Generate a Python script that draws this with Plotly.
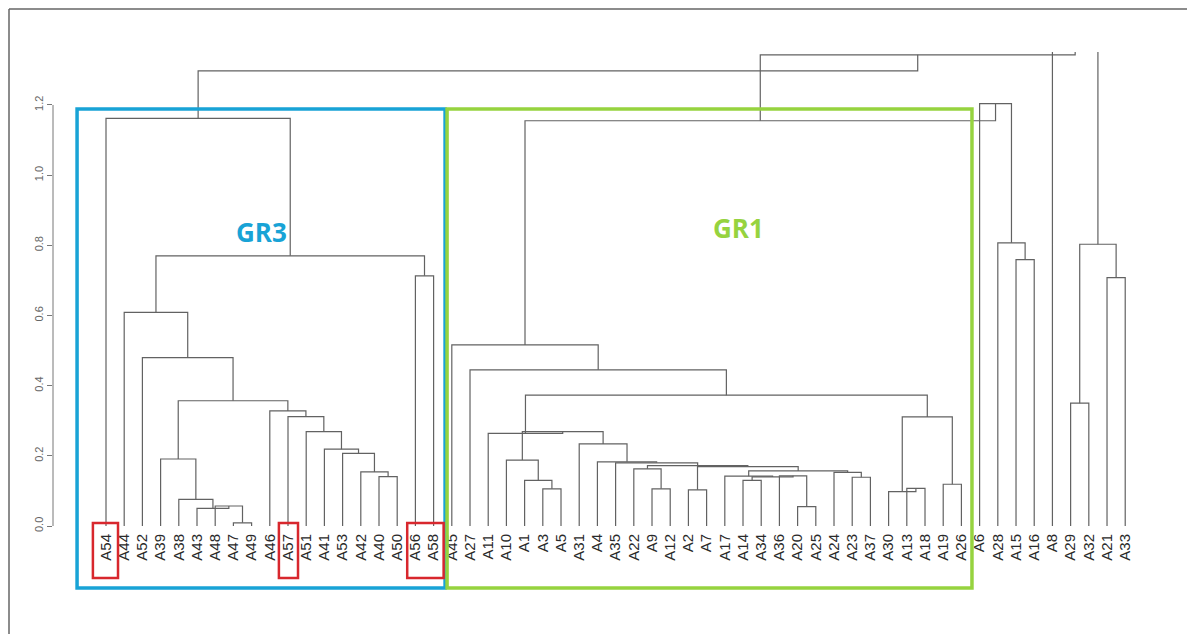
import plotly.graph_objects as go

# leaf order as drawn, left to right
leaves = ['A54', 'A44', 'A52', 'A39', 'A38', 'A43', 'A48', 'A47', 'A49', 'A46',
          'A57', 'A51', 'A41', 'A53', 'A42', 'A40', 'A50', 'A56', 'A58',
          'A45', 'A27', 'A11', 'A10', 'A1', 'A3', 'A5', 'A31', 'A4', 'A35',
          'A22', 'A9', 'A12', 'A2', 'A7', 'A17', 'A14', 'A34', 'A36', 'A20',
          'A25', 'A24', 'A23', 'A37', 'A30', 'A13', 'A18', 'A19', 'A26',
          'A6', 'A28', 'A15', 'A16', 'A8', 'A29', 'A32', 'A21', 'A33']

# merges: node id, left child, right child, height
merge_id = ['c1', 'c2', 'c3', 'c4', 'c5', 'c6', 'c7', 'c8', 'c9', 'c10',
            'c11', 'c12', 'c13', 'c14', 'c15', 'c16', 'c17', 'c18',
            'd1', 'd2', 'd3', 'd4', 'd5', 'd6', 'd7', 'd8', 'd9', 'd10',
            'd11', 'd12', 'd13', 'd14', 'd15', 'd16', 'd17', 'd18', 'd19',
            'd20', 'd21', 'd22', 'd23', 'd24', 'd25', 'd26', 'd27', 'd28',
            'e1', 'e2', 'e3', 'e4', 'e5', 'e6', 'e7', 'e8', 'e9', 'e10']
merge_left = ['A47', 'A48', 'A43', 'A38', 'A39', 'A40', 'A42', 'A53', 'A41', 'A51',
              'A57', 'A46', 'c5', 'A52', 'A44', 'A56', 'c15', 'A54',
              'A3', 'A1', 'A10', 'A9', 'A22', 'A2', 'A14', 'A20', 'A36', 'd7',
              'A17', 'A23', 'A24', 'd11', 'd6', 'd5', 'A35', 'A4', 'A31',
              'd3', 'A11', 'A13', 'A30', 'A19', 'd23', 'd21', 'A27', 'A45',
              'A15', 'A28', 'A6', 'd28', 'A29', 'A21', 'e5', 'A8', 'e4', 'c18']
merge_right = ['A49', 'c1', 'c2', 'c3', 'c4', 'A50', 'c6', 'c7', 'c8', 'c9',
               'c10', 'c11', 'c12', 'c13', 'c14', 'A58', 'c16', 'c17',
               'A5', 'd1', 'd2', 'A12', 'd4', 'A7', 'A34', 'A25', 'd8', 'd9',
               'd10', 'A37', 'd12', 'd13', 'd14', 'd15', 'd16', 'd17', 'd18',
               'd19', 'd20', 'A18', 'd22', 'A26', 'd24', 'd25', 'd26', 'd27',
               'A16', 'e1', 'e2', 'e3', 'A32', 'A33', 'e6', 'e7', 'e8', 'e9']
merge_height = [0.009, 0.057, 0.050, 0.076, 0.191, 0.141, 0.154, 0.207, 0.219, 0.269,
                0.312, 0.328, 0.357, 0.480, 0.609, 0.713, 0.770, 1.162,
                0.106, 0.130, 0.188, 0.106, 0.163, 0.103, 0.130, 0.055, 0.143, 0.140,
                0.142, 0.139, 0.153, 0.157, 0.169, 0.172, 0.180, 0.183, 0.234,
                0.269, 0.264, 0.107, 0.098, 0.119, 0.311, 0.373, 0.445, 0.516,
                0.759, 0.807, 1.204, 1.155, 0.350, 0.708, 0.803, 1.360, 1.343, 1.297]

y_ticks = [0.0, 0.2, 0.4, 0.6, 0.8, 1.0, 1.2]
y_range = [-0.0114, 1.351]
x_range = [-2.912, 59.01]

# group boxes (leaf index span) and highlighted leaves
groups = ['GR3', 'GR1']
group_span = [(-1.59, 18.63), (18.74, 47.58)]
group_color = ['#18a3d6', '#96d33f']
group_label_pos = [(8.55, 0.838), (34.75, 0.85)]
highlight_span = [(-0.72, 0.66), (9.5, 10.55), (16.55, 18.55)]

# the page body has an 8px margin, so the figure is a bit smaller than the window
OFF = 8
W, H = 1195 - OFF, 634 - OFF
M = dict(l=53 - OFF, r=15, t=52 - OFF, b=104)


def paper_y(px):
    return (H - M['b'] - (px - OFF)) / (H - M['t'] - M['b'])


def paper_x(px):
    return (px - OFF - M['l']) / (W - M['l'] - M['r'])


pos = {name: (i, 0.0) for i, name in enumerate(leaves)}
xs, ys = [], []
for nid, a, b, h in zip(merge_id, merge_left, merge_right, merge_height):
    xa, ha = pos[a]
    xb, hb = pos[b]
    xs += [xa, xa, xb, xb, None]
    ys += [ha, h, h, hb, None]
    pos[nid] = ((xa + xb) / 2, h)

fig = go.Figure()
fig.add_trace(go.Scatter(x=xs, y=ys, mode='lines', hoverinfo='skip',
                         line=dict(color='#626262', width=1.2)))

shapes = []
# y axis line from 0 to 1.2 only (R style)
shapes.append(dict(type='line', xref='paper', yref='y', x0=0, x1=0,
                   y0=y_ticks[0], y1=y_ticks[-1], line=dict(color='#777', width=1)))
# outer frame (left and top)
shapes.append(dict(type='line', xref='paper', yref='paper', x0=paper_x(9), x1=paper_x(9),
                   y0=paper_y(9), y1=paper_y(634), line=dict(color='#666', width=1.5)))
shapes.append(dict(type='line', xref='paper', yref='paper', x0=paper_x(9), x1=paper_x(1195),
                   y0=paper_y(9), y1=paper_y(9), line=dict(color='#666', width=1.5)))

for (x0, x1), col in zip(group_span, group_color):
    shapes.append(dict(type='rect', xref='x', yref='paper', x0=x0, x1=x1,
                       y0=paper_y(588), y1=paper_y(109), line=dict(color=col, width=3.5)))
for x0, x1 in highlight_span:
    shapes.append(dict(type='rect', xref='x', yref='paper', x0=x0, x1=x1,
                       y0=paper_y(578), y1=paper_y(523), line=dict(color='#d8272d', width=2.5)))

annotations = []
for g, (gx, gy), col in zip(groups, group_label_pos, group_color):
    annotations.append(dict(x=gx, y=gy, xref='x', yref='y', text='<b>' + g + '</b>',
                            showarrow=False, font=dict(family='Open Sans', size=26, color=col)))

fig.update_layout(
    width=W, height=H, margin=M,
    paper_bgcolor='white', plot_bgcolor='white',
    showlegend=False, shapes=shapes, annotations=annotations,
    xaxis=dict(range=x_range, tickmode='array', tickvals=list(range(len(leaves))),
               ticktext=leaves, tickangle=-90, ticks='', showgrid=False, zeroline=False,
               showline=False, tickfont=dict(family='Liberation Sans', size=15, color='#2a2a2a')),
    yaxis=dict(range=y_range, tickmode='array', tickvals=y_ticks,
               ticktext=['%.1f' % v for v in y_ticks], tickangle=-90, ticks='outside',
               ticklen=5, tickcolor='#777', showgrid=False, zeroline=False, showline=False,
               tickfont=dict(family='Liberation Sans', size=11, color='#666')),
)

fig.write_html("out.html")
